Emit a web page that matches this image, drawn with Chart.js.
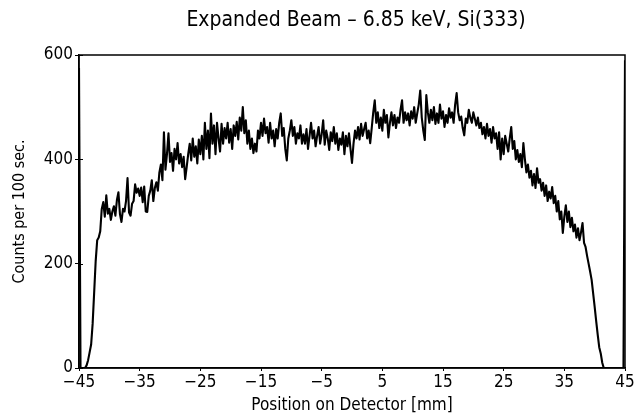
<!DOCTYPE html>
<html>
<head>
<meta charset="utf-8">
<script src="https://cdn.jsdelivr.net/npm/chart.js@4"></script>
<style>
  html, body { margin: 0; padding: 0; background: #fff; }
  #wrap { width: 636px; height: 420px; }
</style>
</head>
<body>
<div id="wrap"><canvas id="c" width="636" height="420"></canvas></div>
<script>
// Detector grid: first channel position and spacing (mm)
const startPosition = -45;
const channelStep = 0.25;

// Counts per 100 sec., one row per mm (4 channels)
const counts = [
  575, 0, 0, 0,        // -45
  0, 5, 15, 30,        // -44
  45, 85, 145, 205,    // -43
  245, 250, 262, 305,  // -42
  318, 290, 331, 296,  // -41
  305, 284, 300, 310,  // -40
  292, 322, 337, 295,  // -39
  280, 305, 300, 320,  // -38
  364, 298, 292, 315,  // -37
  320, 352, 336, 344,  // -36
  330, 346, 318, 348,  // -35
  300, 299, 330, 340,  // -34
  360, 320, 345, 356,  // -33
  340, 375, 390, 360,  // -32
  452, 380, 410, 450,  // -31
  395, 412, 378, 420,  // -30
  400, 431, 392, 410,  // -29
  385, 405, 362, 385,  // -28
  410, 430, 398, 440,  // -27
  405, 425, 392, 438,  // -26
  410, 445, 400, 470,  // -25
  420, 455, 402, 488,  // -24
  430, 465, 410, 470,  // -23
  440, 415, 468, 430,  // -22
  460, 440, 470, 432,  // -21
  458, 420, 465, 445,  // -20
  472, 438, 480, 455,  // -19
  500, 450, 475, 430,  // -18
  455, 420, 440, 412,  // -17
  430, 415, 455, 440,  // -16
  470, 445, 478, 450,  // -15
  462, 432, 470, 440,  // -14
  455, 425, 458, 440,  // -13
  470, 488, 445, 460,  // -12
  420, 398, 440, 455,  // -11
  475, 445, 462, 430,  // -10
  450, 440, 465, 430,  // -9
  448, 430, 458, 420,  // -8
  445, 470, 440, 455,  // -7
  425, 445, 462, 430,  // -6
  448, 475, 428, 455,  // -5
  440, 418, 452, 435,  // -4
  462, 430, 450, 418,  // -3
  440, 428, 452, 410,  // -2
  445, 425, 450, 420,  // -1
  393, 430, 455, 440,  // 0
  462, 438, 468, 445,  // 1
  458, 470, 440, 455,  // 2
  431, 460, 490, 513,  // 3
  470, 490, 460, 480,  // 4
  455, 495, 470, 485,  // 5
  442, 470, 490, 465,  // 6
  485, 460, 480, 470,  // 7
  495, 513, 470, 490,  // 8
  475, 488, 465, 492,  // 9
  478, 500, 470, 488,  // 10
  505, 532, 480, 455,  // 11
  437, 523, 490, 470,  // 12
  495, 475, 500, 468,  // 13
  488, 470, 505, 478,  // 14
  492, 462, 485, 470,  // 15
  498, 480, 490, 470,  // 16
  505, 527, 490, 475,  // 17
  482, 460, 446, 478,  // 18
  470, 495, 480, 470,  // 19
  490, 478, 465, 480,  // 20
  460, 470, 448, 462,  // 21
  440, 468, 445, 458,  // 22
  432, 462, 440, 450,  // 23
  420, 452, 400, 440,  // 24
  410, 445, 430, 415,  // 25
  440, 462, 420, 435,  // 26
  400, 418, 395, 410,  // 27
  385, 431, 400, 375,  // 28
  390, 365, 378, 350,  // 29
  372, 345, 383, 355,  // 30
  362, 340, 355, 330,  // 31
  350, 320, 338, 325,  // 32
  347, 316, 330, 300,  // 33
  320, 285, 300, 259,  // 34
  290, 312, 280, 300,  // 35
  270, 288, 262, 275,  // 36
  250, 268, 245, 260,  // 37
  278, 240, 232, 215,  // 38
  200, 185, 169, 143,  // 39
  117, 90, 64, 40,     // 40
  28, 10, 0, 0,        // 41
  0, 0, 0, 0,          // 42
  0, 0, 0, 0,          // 43
  0, 0, 0, 0,          // 44
  590                  // 45
];

const xTickValues = [-45, -35, -25, -15, -5, 5, 15, 25, 35, 45];
const yTickValues = [0, 200, 400, 600];

const titleText = 'Expanded Beam \u2013 6.85 keV, Si(333)';
const xTitle = 'Position on Detector [mm]';
const yTitle = 'Counts per 100 sec.';

const points = counts.map((v, i) => ({ x: startPosition + i * channelStep, y: v }));

const FONT = "'Liberation Sans Narrow', 'DejaVu Sans Condensed', 'Liberation Sans', sans-serif";

const framePlugin = {
  id: 'frame',
  afterDraw(chart) {
    const { ctx, chartArea: a, scales } = chart;
    ctx.save();
    ctx.strokeStyle = '#000';
    ctx.lineWidth = 1.5;
    ctx.strokeRect(a.left, a.top, a.right - a.left, a.bottom - a.top);
    // inward tick marks on the left axis
    ctx.lineWidth = 1;
    yTickValues.forEach(v => {
      const y = Math.round(scales.y.getPixelForValue(v)) + 0.5;
      ctx.beginPath();
      ctx.moveTo(a.left, y);
      ctx.lineTo(a.left + 4, y);
      ctx.stroke();
    });
    // chart title, centred a little right of the plot centre as in the original
    ctx.fillStyle = '#000';
    ctx.font = "21px " + FONT;
    ctx.textAlign = 'center';
    ctx.textBaseline = 'middle';
    ctx.fillText(titleText, (a.left + a.right) / 2 + 4, 21);
    ctx.restore();
  }
};

new Chart(document.getElementById('c'), {
  type: 'line',
  data: {
    datasets: [{
      data: points,
      borderColor: '#000',
      borderWidth: 2.1,
      pointRadius: 0,
      tension: 0,
      fill: false,
      borderJoinStyle: 'round'
    }]
  },
  options: {
    responsive: false,
    animation: false,
    devicePixelRatio: 1,
    layout: { padding: { left: 10, right: 11, top: 55, bottom: 4 } },
    plugins: {
      legend: { display: false },
      tooltip: { enabled: false },
      title: { display: false }
    },
    scales: {
      x: {
        type: 'linear',
        min: -45,
        max: 45,
        afterBuildTicks: s => { s.ticks = xTickValues.map(v => ({ value: v })); },
        afterFit: s => { s.height = 48; },
        ticks: {
          color: '#000',
          font: { family: FONT, size: 17 },
          padding: 1,
          maxRotation: 0,
          autoSkip: false,
          callback: v => (v < 0 ? '\u2212' + Math.abs(v) : String(v))
        },
        grid: { drawOnChartArea: false, drawTicks: true, tickLength: 3, color: '#000' },
        border: { display: true, color: '#000', width: 1.5 },
        title: {
          display: true,
          text: xTitle,
          color: '#000',
          font: { family: FONT, size: 17 },
          padding: { top: 4, bottom: 0 }
        }
      },
      y: {
        min: 0,
        max: 600,
        afterBuildTicks: s => { s.ticks = yTickValues.map(v => ({ value: v })); },
        afterFit: s => { s.width = 69; },
        ticks: {
          color: '#000',
          font: { family: FONT, size: 17 },
          padding: 2
        },
        grid: { drawOnChartArea: false, drawTicks: true, tickLength: 4, color: '#000' },
        border: { display: true, color: '#000', width: 1.5 },
        title: {
          display: true,
          text: yTitle,
          color: '#000',
          font: { family: FONT, size: 16 },
          padding: { top: 0, bottom: 8 }
        }
      }
    }
  },
  plugins: [framePlugin]
});
</script>
</body>
</html>
